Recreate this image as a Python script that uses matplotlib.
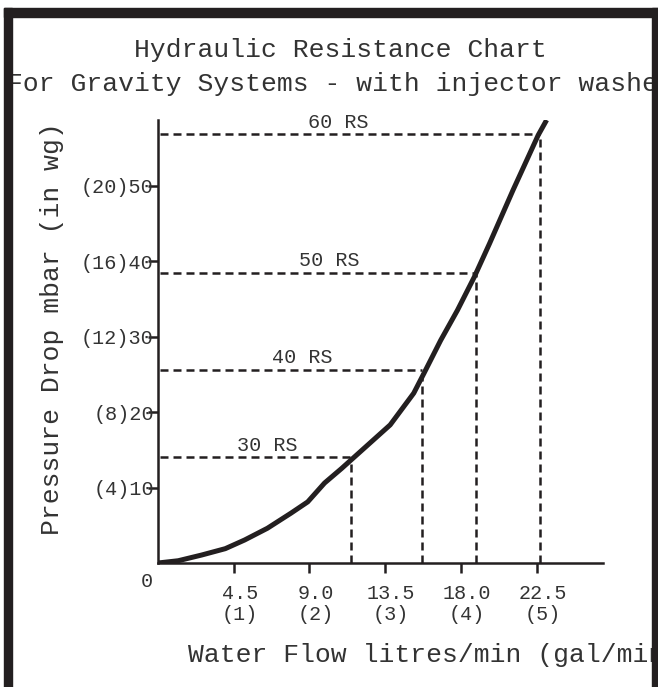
import matplotlib
matplotlib.use("Agg")
import matplotlib.pyplot as plt
import matplotlib.transforms as mtrans
from matplotlib.patches import Rectangle

# curve (litres/min vs mbar)
flow = [0, 1.2, 2.6, 4.0, 5.15, 6.5, 7.9, 8.9, 9.9, 10.9, 11.7, 12.8, 13.8, 14.6, 15.2,
        15.8, 16.8, 17.8, 18.8, 19.7, 21.1, 22.6, 23.1]
pressure = [0, 0.3, 1.06, 1.9, 3.05, 4.6, 6.6, 8.1, 10.6, 12.5, 14.1, 16.3, 18.3, 20.7, 22.5,
            25.1, 29.5, 33.5, 37.9, 42.3, 49.4, 56.7, 58.7]

# resistance points
rs_labels = ["30 RS", "40 RS", "50 RS", "60 RS"]
rs_flow = [11.47, 15.7, 18.9, 22.7]
rs_pressure = [14.0, 25.6, 38.4, 56.8]
rs_label_x = [6.5, 8.6, 10.2, 10.7]

xticks = [4.5, 9.0, 13.5, 18.0, 22.5]
xlabels = ["4.5\n(1)", "9.0\n(2)", "13.5\n(3)", "18.0\n(4)", "22.5\n(5)"]
yticks = [10, 20, 30, 40, 50]
ylabels = ["(4)10", "(8)20", "(12)30", "(16)40", "(20)50"]

ink = "#231f20"
txt = "#333333"
plt.rcParams["font.family"] = ["Liberation Mono", "DejaVu Sans Mono"]

W, H = 658, 687
fig = plt.figure(figsize=(W / 100, H / 100), dpi=100)

# heavy frame (left, top, right)
fig.patches.append(Rectangle((4 / W, 0), 8 / W, 1 - 8 / H, transform=fig.transFigure, color=ink, zorder=10))
fig.patches.append(Rectangle((4 / W, 1 - 17 / H), 654 / W, 9 / H, transform=fig.transFigure, color=ink, zorder=10))
fig.patches.append(Rectangle((652 / W, 0), 6 / W, 1 - 8 / H, transform=fig.transFigure, color=ink, zorder=10))

ax = fig.add_axes([158 / W, 124 / H, 445 / W, 443 / H])
ax.set_xlim(0, 26.45)
ax.set_ylim(0, 58.7)

for s in ["top", "right"]:
    ax.spines[s].set_visible(False)
for s in ["left", "bottom"]:
    ax.spines[s].set_linewidth(1.8)
    ax.spines[s].set_color(ink)

ax.plot(flow, pressure, color=ink, lw=3.6, solid_capstyle="butt", solid_joinstyle="round", zorder=5)

for lab, fx, py, lx in zip(rs_labels, rs_flow, rs_pressure, rs_label_x):
    ax.plot([0.1, fx], [py, py], color=ink, lw=1.8, dashes=(3.2, 2), zorder=3)
    ax.plot([fx, fx], [0, py], color=ink, lw=1.8, dashes=(3.2, 2), zorder=3)
    ax.annotate(lab, (lx, py), xytext=(0, 2), textcoords="offset points",
                ha="center", va="bottom", fontsize=14.5, color=txt)

ax.set_xticks(xticks)
ax.set_xticklabels(xlabels, fontsize=14.5, color=txt, linespacing=1.15)
ax.set_yticks(yticks)
ax.set_yticklabels(ylabels, fontsize=14.5, color=txt)
ax.tick_params(axis="x", direction="out", length=7, width=1.8, color=ink, pad=8)
ax.tick_params(axis="y", direction="out", length=7, width=1.8, color=ink, pad=-4)

# x labels sit a little right of their ticks in the original
shift = mtrans.ScaledTranslation(6 / 100, 0, fig.dpi_scale_trans)
for t in ax.get_xticklabels():
    t.set_transform(t.get_transform() + shift)

ax.text(-0.65, -2.4, "0", ha="center", va="center", fontsize=14.5, color=txt)

fig.text(340 / W, 1 - 50 / H, "Hydraulic Resistance Chart", ha="center", va="center",
         fontsize=19, color=txt)
fig.text(348 / W, 1 - 84 / H, "For Gravity Systems - with injector washers", ha="center",
         va="center", fontsize=19, color=txt)
fig.text(188 / W, 1 - 655 / H, "Water Flow litres/min (gal/min)", ha="left", va="center",
         fontsize=19, color=txt)
fig.text(52 / W, 1 - 329 / H, "Pressure Drop mbar (in wg)", ha="center", va="center",
         rotation=90, fontsize=19, color=txt)

fig.savefig("out.png", dpi=100, facecolor="white")
